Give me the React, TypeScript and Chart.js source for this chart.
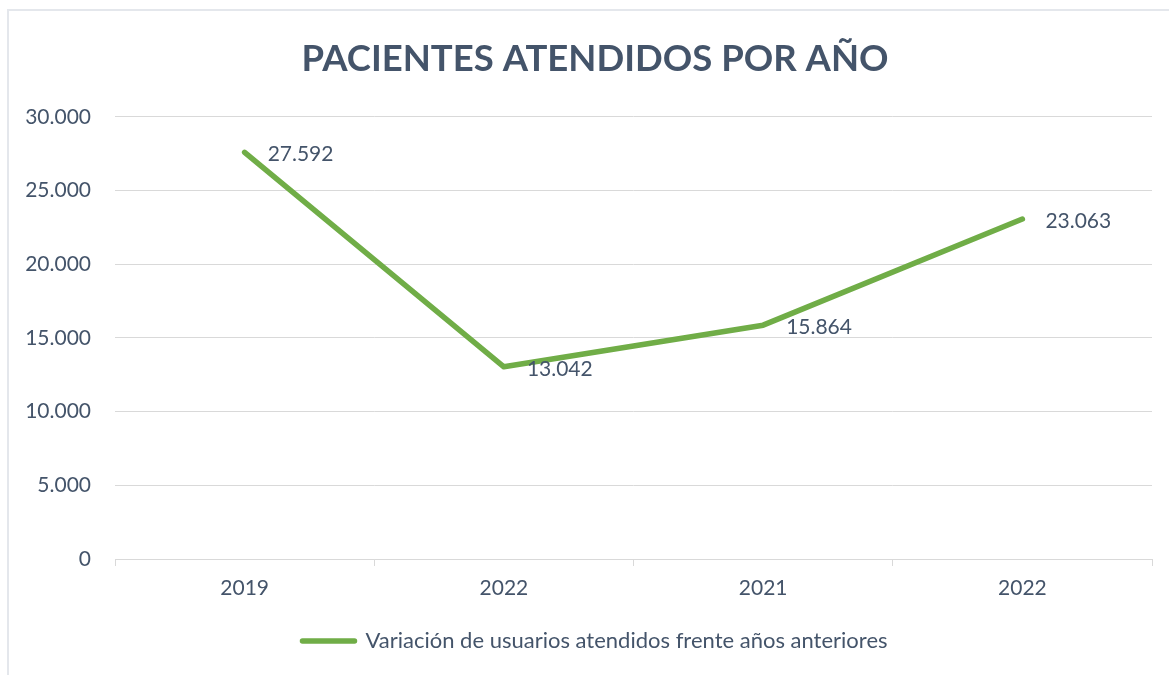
import React, { useEffect, useRef } from "react";
import { Chart, registerables } from "chart.js";

Chart.register(...registerables);

const categories = ["2019", "2022", "2021", "2022"];
const values = [27592, 13042, 15864, 23063];
const yTicks = [0, 5000, 10000, 15000, 20000, 25000, 30000];
const seriesName = "Variación de usuarios atendidos frente años anteriores";
const titleText = "PACIENTES ATENDIDOS POR AÑO";

const TEXT = "#44546A";
const GREEN = "#70AD47";
const GRID = "#D9D9D9";
const FONT = "Lato, 'Open Sans', sans-serif";

const fmt = (v: number) =>
  String(Math.round(v)).replace(/\B(?=(\d{3})+(?!\d))/g, ".");

const dataLabels = {
  id: "dataLabels",
  afterDatasetsDraw(chart: any) {
    const ctx = chart.ctx;
    const meta = chart.getDatasetMeta(0);
    ctx.save();
    ctx.font = `21px ${FONT}`;
    ctx.fillStyle = TEXT;
    ctx.textAlign = "left";
    ctx.textBaseline = "middle";
    meta.data.forEach((pt: any, i: number) => {
      ctx.fillText(fmt(values[i]), pt.x + 23, pt.y + 2);
    });
    ctx.restore();
  },
};

// shift the centred title and legend a little to the right, as in the reference
const centreShift = {
  id: "centreShift",
  afterLayout(chart: any) {
    if (chart.titleBlock) chart.titleBlock.left += 38;
    if (chart.legend) chart.legend.left += 38;
  },
};

export default function App() {
  const ref = useRef<HTMLCanvasElement>(null);
  useEffect(() => {
    if (!ref.current) return;
    const chart = new Chart(ref.current, {
      type: "line",
      data: {
        labels: categories,
        datasets: [
          {
            label: seriesName,
            data: values,
            borderColor: GREEN,
            backgroundColor: GREEN,
            borderWidth: 5.5,
            borderCapStyle: "round",
            borderJoinStyle: "round",
            pointRadius: 0,
            tension: 0,
          },
        ],
      },
      options: {
        animation: false,
        responsive: false,
        maintainAspectRatio: false,
        layout: { padding: { left: 0, right: 17, top: 0, bottom: 13 } },
        scales: {
          x: {
            offset: true,
            grid: {
              offset: true,
              drawOnChartArea: false,
              drawTicks: true,
              tickLength: 7,
              color: GRID,
              lineWidth: 1,
            },
            border: { display: true, color: GRID, width: 1 },
            ticks: {
              color: TEXT,
              font: { family: FONT, size: 21 },
              padding: 10,
              maxRotation: 0,
            },
            afterFit(scale: any) {
              scale.height = 61;
            },
          },
          y: {
            min: 0,
            max: 30000,
            afterBuildTicks(scale: any) {
              scale.ticks = yTicks.map((v) => ({ value: v }));
            },
            grid: { color: GRID, lineWidth: 1, drawTicks: false },
            border: { display: false },
            ticks: {
              color: TEXT,
              font: { family: FONT, size: 21 },
              padding: 24,
              callback: (v: any) => fmt(Number(v)),
            },
            afterFit(scale: any) {
              scale.width = 115;
            },
          },
        },
        plugins: {
          title: {
            display: true,
            text: titleText,
            color: TEXT,
            font: { family: FONT, size: 36.5, weight: "bold" },
            padding: { top: 37, bottom: 36 },
          },
          legend: {
            display: true,
            position: "bottom",
            labels: {
              color: TEXT,
              font: { family: FONT, size: 22 },
              usePointStyle: true,
              pointStyleWidth: 52,
              padding: 10,
              generateLabels: () => [
                {
                  text: seriesName,
                  fillStyle: GREEN,
                  strokeStyle: GREEN,
                  lineWidth: 5.5,
                  lineCap: "round",
                  pointStyle: "line",
                  hidden: false,
                  datasetIndex: 0,
                  fontColor: TEXT,
                } as any,
              ],
            },
          },
          tooltip: { enabled: false },
        },
      } as any,
      plugins: [dataLabels, centreShift],
    });
    return () => chart.destroy();
  }, []);

  return (
    <div
      style={{
        position: "fixed",
        left: 0,
        top: 0,
        width: 1169,
        height: 675,
        background: "#fff",
        overflow: "hidden",
      }}
    >
      <div
        style={{
          position: "absolute",
          left: 7,
          top: 9,
          width: 1200,
          height: 700,
          border: `2px solid #E4E7EC`,
          boxSizing: "border-box",
        }}
      />
      <canvas
        ref={ref}
        width={1169}
        height={675}
        style={{ position: "absolute", left: 0, top: 0, width: 1169, height: 675 }}
      />
    </div>
  );
}
